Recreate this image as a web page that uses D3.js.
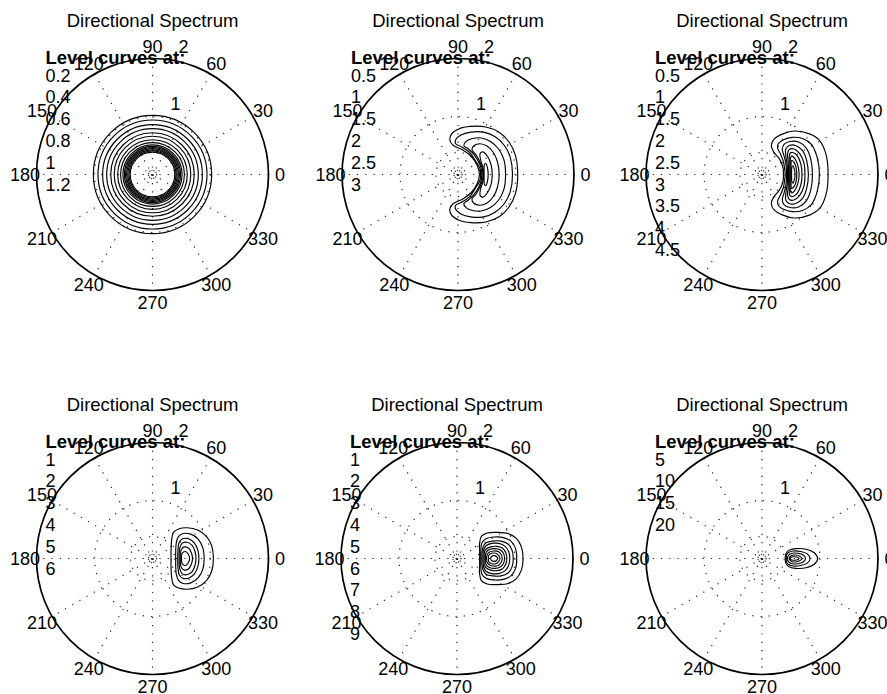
<!DOCTYPE html>
<html>
<head>
<meta charset="utf-8">
<script src="https://cdn.jsdelivr.net/npm/d3@7"></script>
<style>
  body { margin: 0; background: #fff; }
  svg { display: block; }
  text { font-family: "Liberation Sans", Arial, Helvetica, sans-serif; fill: #000; }
</style>
</head>
<body>
<svg id="chart" width="887" height="694"></svg>
<script>
// ---- data ----
const chartTitle = "Directional Spectrum";
const levelHeader = "Level curves at:";
const angleTicks = [0, 30, 60, 90, 120, 150, 180, 210, 240, 270, 300, 330];
const spokeAngles = [0, 30, 60, 90, 120, 150];
const radialTicks = [1, 2];
const gridRings = [0.07, 0.38, 1];
const rMax = 2;

const levels1 = [0.2, 0.4, 0.6, 0.8, 1, 1.2];
const levels2 = [0.5, 1, 1.5, 2, 2.5, 3];
const levels3 = [0.5, 1, 1.5, 2, 2.5, 3, 3.5, 4, 4.5];
const levels4 = [1, 2, 3, 4, 5, 6];
const levels5 = [1, 2, 3, 4, 5, 6, 7, 8, 9];
const levels6 = [5, 10, 15, 20];

// plot 1: contours are circles (radius in frequency units)
const rings1 = [1.02, 0.94, 0.86, 0.79, 0.72, 0.66, 0.60, 0.55, 0.51, 0.485, 0.465, 0.445, 0.425, 0.405, 0.385];

// plots 2-6: closed contour curves, [x, y] in the same radial units (0 deg = +x)
const contours2 = [
  [[1.03,0],[0.99,0.33],[0.88,0.56],[0.71,0.73],[0.48,0.82],[0.22,0.83],[0.02,0.79],[-0.11,0.70],[-0.14,0.59],[-0.08,0.50],[0.07,0.43],[0.23,0.31],[0.33,0.16],[0.37,0],
   [0.33,-0.16],[0.23,-0.31],[0.07,-0.43],[-0.08,-0.50],[-0.14,-0.59],[-0.11,-0.70],[0.02,-0.79],[0.22,-0.83],[0.48,-0.82],[0.71,-0.73],[0.88,-0.56],[0.99,-0.33]],
  [[0.94,0],[0.90,0.30],[0.80,0.50],[0.64,0.65],[0.44,0.73],[0.22,0.73],[0.05,0.68],[-0.04,0.60],[-0.04,0.53],[0.06,0.48],[0.20,0.38],[0.31,0.22],[0.38,0.10],[0.39,0],
   [0.38,-0.10],[0.31,-0.22],[0.20,-0.38],[0.06,-0.48],[-0.04,-0.53],[-0.04,-0.60],[0.05,-0.68],[0.22,-0.73],[0.44,-0.73],[0.64,-0.65],[0.80,-0.50],[0.90,-0.30]],
  [[0.82,0],[0.79,0.26],[0.70,0.44],[0.56,0.57],[0.40,0.63],[0.25,0.62],[0.14,0.57],[0.10,0.50],[0.18,0.44],[0.28,0.34],[0.36,0.21],[0.40,0.10],[0.41,0],
   [0.40,-0.10],[0.36,-0.21],[0.28,-0.34],[0.18,-0.44],[0.10,-0.50],[0.14,-0.57],[0.25,-0.62],[0.40,-0.63],[0.56,-0.57],[0.70,-0.44],[0.79,-0.26]],
  [[0.71,0],[0.68,0.22],[0.61,0.38],[0.50,0.49],[0.38,0.53],[0.28,0.50],[0.24,0.43],[0.31,0.34],[0.38,0.21],[0.42,0.10],[0.43,0],
   [0.42,-0.10],[0.38,-0.21],[0.31,-0.34],[0.24,-0.43],[0.28,-0.50],[0.38,-0.53],[0.50,-0.49],[0.61,-0.38],[0.68,-0.22]],
  [[0.59,0],[0.57,0.17],[0.51,0.31],[0.43,0.39],[0.38,0.36],[0.39,0.25],[0.43,0.12],[0.44,0],
   [0.43,-0.12],[0.39,-0.25],[0.38,-0.36],[0.43,-0.39],[0.51,-0.31],[0.57,-0.17]],
  [[0.52,0],[0.51,0.11],[0.48,0.19],[0.455,0.17],[0.45,0.08],[0.45,0],
   [0.45,-0.08],[0.455,-0.17],[0.48,-0.19],[0.51,-0.11]]
];

const contours3 = [
  [[1.14,0],[1.10,0.36],[0.99,0.59],[0.82,0.70],[0.56,0.75],[0.36,0.70],[0.21,0.61],[0.16,0.50],[0.20,0.39],[0.30,0.27],[0.36,0.13],[0.37,0],
   [0.36,-0.13],[0.30,-0.27],[0.20,-0.39],[0.16,-0.50],[0.21,-0.61],[0.36,-0.70],[0.56,-0.75],[0.82,-0.70],[0.99,-0.59],[1.10,-0.36]],
  [[0.99,0],[0.95,0.30],[0.85,0.52],[0.70,0.62],[0.52,0.64],[0.37,0.60],[0.28,0.53],[0.27,0.45],[0.32,0.35],[0.37,0.22],[0.39,0.10],[0.40,0],
   [0.39,-0.10],[0.37,-0.22],[0.32,-0.35],[0.27,-0.45],[0.28,-0.53],[0.37,-0.60],[0.52,-0.64],[0.70,-0.62],[0.85,-0.52],[0.95,-0.30]],
  [[0.87,0],[0.84,0.27],[0.76,0.46],[0.63,0.56],[0.48,0.57],[0.38,0.52],[0.35,0.43],[0.38,0.32],[0.41,0.20],[0.42,0.09],[0.425,0],
   [0.42,-0.09],[0.41,-0.20],[0.38,-0.32],[0.35,-0.43],[0.38,-0.52],[0.48,-0.57],[0.63,-0.56],[0.76,-0.46],[0.84,-0.27]],
  [[0.80,0],[0.77,0.24],[0.70,0.41],[0.58,0.50],[0.47,0.50],[0.41,0.44],[0.41,0.33],[0.43,0.20],[0.44,0.08],[0.44,0],
   [0.44,-0.08],[0.43,-0.20],[0.41,-0.33],[0.41,-0.44],[0.47,-0.50],[0.58,-0.50],[0.70,-0.41],[0.77,-0.24]],
  [[0.74,0],[0.72,0.21],[0.65,0.36],[0.55,0.44],[0.47,0.43],[0.44,0.35],[0.45,0.23],[0.455,0.11],[0.46,0],
   [0.455,-0.11],[0.45,-0.23],[0.44,-0.35],[0.47,-0.43],[0.55,-0.44],[0.65,-0.36],[0.72,-0.21]],
  [[0.69,0],[0.67,0.18],[0.61,0.32],[0.53,0.38],[0.48,0.36],[0.47,0.26],[0.47,0.13],[0.47,0],
   [0.47,-0.13],[0.47,-0.26],[0.48,-0.36],[0.53,-0.38],[0.61,-0.32],[0.67,-0.18]],
  [[0.64,0],[0.62,0.15],[0.57,0.27],[0.51,0.32],[0.49,0.27],[0.485,0.14],[0.485,0],
   [0.485,-0.14],[0.49,-0.27],[0.51,-0.32],[0.57,-0.27],[0.62,-0.15]],
  [[0.60,0],[0.585,0.13],[0.545,0.22],[0.51,0.24],[0.50,0.14],[0.50,0],
   [0.50,-0.14],[0.51,-0.24],[0.545,-0.22],[0.585,-0.13]],
  [[0.57,0],[0.56,0.08],[0.535,0.15],[0.515,0.12],[0.51,0.05],[0.51,0],
   [0.51,-0.05],[0.515,-0.12],[0.535,-0.15],[0.56,-0.08]]
];

const contours4 = [
  [[1.05,0],[1.02,0.22],[0.93,0.38],[0.78,0.49],[0.60,0.53],[0.45,0.51],[0.36,0.45],[0.33,0.32],[0.32,0.16],[0.32,0],
   [0.32,-0.16],[0.33,-0.32],[0.36,-0.45],[0.45,-0.51],[0.60,-0.53],[0.78,-0.49],[0.93,-0.38],[1.02,-0.22]],
  [[0.89,0],[0.87,0.18],[0.79,0.33],[0.66,0.42],[0.53,0.43],[0.45,0.38],[0.41,0.27],[0.40,0.13],[0.40,0],
   [0.40,-0.13],[0.41,-0.27],[0.45,-0.38],[0.53,-0.43],[0.66,-0.42],[0.79,-0.33],[0.87,-0.18]],
  [[0.80,0],[0.78,0.15],[0.72,0.27],[0.62,0.34],[0.52,0.34],[0.46,0.28],[0.44,0.16],[0.435,0],
   [0.44,-0.16],[0.46,-0.28],[0.52,-0.34],[0.62,-0.34],[0.72,-0.27],[0.78,-0.15]],
  [[0.75,0],[0.73,0.13],[0.68,0.23],[0.59,0.28],[0.51,0.26],[0.47,0.18],[0.46,0.08],[0.46,0],
   [0.46,-0.08],[0.47,-0.18],[0.51,-0.26],[0.59,-0.28],[0.68,-0.23],[0.73,-0.13]],
  [[0.69,0],[0.67,0.10],[0.62,0.18],[0.55,0.20],[0.50,0.16],[0.48,0.08],[0.48,0],
   [0.48,-0.08],[0.50,-0.16],[0.55,-0.20],[0.62,-0.18],[0.67,-0.10]],
  [[0.64,0],[0.62,0.07],[0.57,0.12],[0.52,0.10],[0.50,0.05],[0.50,0],
   [0.50,-0.05],[0.52,-0.10],[0.57,-0.12],[0.62,-0.07]]
];

const contours5 = [
  [[1.14,0],[1.11,0.20],[1.02,0.35],[0.88,0.43],[0.70,0.45],[0.52,0.44],[0.42,0.38],[0.39,0.26],[0.39,0.12],[0.39,0],
   [0.39,-0.12],[0.39,-0.26],[0.42,-0.38],[0.52,-0.44],[0.70,-0.45],[0.88,-0.43],[1.02,-0.35],[1.11,-0.20]],
  [[1.03,0],[1.01,0.17],[0.93,0.30],[0.80,0.36],[0.64,0.37],[0.50,0.34],[0.43,0.27],[0.41,0.13],[0.41,0],
   [0.41,-0.13],[0.43,-0.27],[0.50,-0.34],[0.64,-0.37],[0.80,-0.36],[0.93,-0.30],[1.01,-0.17]],
  [[0.97,0],[0.95,0.14],[0.88,0.25],[0.76,0.30],[0.62,0.30],[0.50,0.27],[0.45,0.20],[0.43,0.10],[0.43,0],
   [0.43,-0.10],[0.45,-0.20],[0.50,-0.27],[0.62,-0.30],[0.76,-0.30],[0.88,-0.25],[0.95,-0.14]],
  [[0.91,0],[0.89,0.12],[0.83,0.21],[0.72,0.26],[0.60,0.26],[0.50,0.22],[0.46,0.15],[0.45,0.07],[0.45,0],
   [0.45,-0.07],[0.46,-0.15],[0.50,-0.22],[0.60,-0.26],[0.72,-0.26],[0.83,-0.21],[0.89,-0.12]],
  [[0.86,0],[0.84,0.10],[0.78,0.18],[0.69,0.21],[0.58,0.20],[0.50,0.16],[0.47,0.10],[0.47,0],
   [0.47,-0.10],[0.50,-0.16],[0.58,-0.20],[0.69,-0.21],[0.78,-0.18],[0.84,-0.10]],
  [[0.82,0],[0.80,0.09],[0.74,0.15],[0.66,0.17],[0.57,0.16],[0.51,0.12],[0.49,0.06],[0.49,0],
   [0.49,-0.06],[0.51,-0.12],[0.57,-0.16],[0.66,-0.17],[0.74,-0.15],[0.80,-0.09]],
  [[0.78,0],[0.76,0.07],[0.71,0.12],[0.63,0.13],[0.56,0.11],[0.52,0.07],[0.51,0],
   [0.52,-0.07],[0.56,-0.11],[0.63,-0.13],[0.71,-0.12],[0.76,-0.07]],
  [[0.74,0],[0.72,0.05],[0.67,0.09],[0.60,0.09],[0.55,0.06],[0.54,0],
   [0.55,-0.06],[0.60,-0.09],[0.67,-0.09],[0.72,-0.05]],
  [[0.70,0],[0.68,0.035],[0.64,0.05],[0.60,0.04],[0.58,0],
   [0.60,-0.04],[0.64,-0.05],[0.68,-0.035]]
];

const contours6 = [
  [[0.96,0],[0.90,0.10],[0.76,0.16],[0.58,0.17],[0.46,0.14],[0.41,0.08],[0.40,0],
   [0.41,-0.08],[0.46,-0.14],[0.58,-0.17],[0.76,-0.16],[0.90,-0.10]],
  [[0.83,0],[0.78,0.08],[0.67,0.12],[0.54,0.13],[0.45,0.10],[0.42,0.05],[0.42,0],
   [0.42,-0.05],[0.45,-0.10],[0.54,-0.13],[0.67,-0.12],[0.78,-0.08]],
  [[0.75,0],[0.71,0.06],[0.62,0.09],[0.52,0.09],[0.46,0.06],[0.44,0],
   [0.46,-0.06],[0.52,-0.09],[0.62,-0.09],[0.71,-0.06]],
  [[0.69,0],[0.65,0.04],[0.58,0.06],[0.51,0.05],[0.47,0],
   [0.51,-0.05],[0.58,-0.06],[0.65,-0.04]],
  [[0.64,0],[0.60,0.025],[0.54,0.03],[0.50,0.02],[0.49,0],
   [0.50,-0.02],[0.54,-0.03],[0.60,-0.025]]
];

// ---- layout ----
const R = 116;
const fontSize = 18;
const centers = [[152.5, 174.5], [458, 174.5], [762, 174.5], [152.5, 558.5], [457, 558.5], [762, 558.5]];
const panels = [
  { levels: levels1, rings: rings1 },
  { levels: levels2, contours: contours2 },
  { levels: levels3, contours: contours3 },
  { levels: levels4, contours: contours4 },
  { levels: levels5, contours: contours5 },
  { levels: levels6, contours: contours6 }
];

const svg = d3.select("#chart");
svg.append("rect").attr("width", 887).attr("height", 694).attr("fill", "#fff");

const rScale = d3.scaleLinear().domain([0, rMax]).range([0, R]);
const xScale = d3.scaleLinear().domain([-rMax, rMax]).range([-R, R]);
const yScale = d3.scaleLinear().domain([-rMax, rMax]).range([R, -R]);

const contourLine = d3.line()
  .x(d => xScale(d[0]))
  .y(d => yScale(d[1]))
  .curve(d3.curveCatmullRomClosed.alpha(0.5));

function polarPoint(angleDeg, rv) {
  const a = angleDeg * Math.PI / 180;
  return [xScale(rv * Math.cos(a)), yScale(rv * Math.sin(a))];
}

panels.forEach((p, i) => {
  const g = svg.append("g")
    .attr("transform", `translate(${centers[i][0]},${centers[i][1]})`);

  // title
  g.append("text")
    .attr("x", 0).attr("y", -148)
    .attr("text-anchor", "middle")
    .style("font-size", "18.5px")
    .text(chartTitle);

  // dotted spokes
  g.selectAll("line.spoke").data(spokeAngles).join("line")
    .attr("class", "spoke")
    .attr("x1", a => polarPoint(a, rMax)[0])
    .attr("y1", a => polarPoint(a, rMax)[1])
    .attr("x2", a => polarPoint(a + 180, rMax)[0])
    .attr("y2", a => polarPoint(a + 180, rMax)[1])
    .attr("stroke", "#222").attr("stroke-width", 1.2)
    .attr("stroke-dasharray", "1.2,7.1");

  // dotted rings
  g.selectAll("circle.grid").data(gridRings).join("circle")
    .attr("class", "grid")
    .attr("r", d => rScale(d))
    .attr("fill", "none")
    .attr("stroke", "#222").attr("stroke-width", 1.2)
    .attr("stroke-dasharray", d => d < 0.1 ? "1,1.2" : "1.2,7.1");

  // outer circle
  g.append("circle")
    .attr("r", rScale(rMax))
    .attr("fill", "none")
    .attr("stroke", "#000").attr("stroke-width", 1.7);

  // contours
  if (p.rings) {
    g.selectAll("circle.level").data(p.rings).join("circle")
      .attr("class", "level")
      .attr("r", d => rScale(d))
      .attr("fill", "none")
      .attr("stroke", "#000").attr("stroke-width", 1.15);
  } else {
    g.selectAll("path.level").data(p.contours).join("path")
      .attr("class", "level")
      .attr("d", contourLine)
      .attr("fill", "none")
      .attr("stroke", "#000").attr("stroke-width", 1.15);
  }

  // angle labels
  g.selectAll("text.angle").data(angleTicks).join("text")
    .attr("class", "angle")
    .attr("x", a => polarPoint(a, rMax * 1.1)[0])
    .attr("y", a => polarPoint(a, rMax * 1.1)[1])
    .attr("text-anchor", "middle")
    .attr("dy", "0.36em")
    .style("font-size", fontSize + "px")
    .text(a => a);

  // radial labels at 82 degrees
  g.selectAll("text.rtick").data(radialTicks).join("text")
    .attr("class", "rtick")
    .attr("x", v => polarPoint(82, v + 0.05)[0] + 9.5)
    .attr("y", v => polarPoint(82, v + 0.05)[1] - 4)
    .style("font-size", fontSize + "px")
    .text(v => v);

  // level list
  g.append("text")
    .attr("x", -107).attr("y", -110.5)
    .style("font-size", "18.5px")
    .style("font-weight", "bold")
    .text(levelHeader);

  g.selectAll("text.lev").data(p.levels).join("text")
    .attr("class", "lev")
    .attr("x", -107)
    .attr("y", (d, k) => -93 + k * 21.8)
    .style("font-size", fontSize + "px")
    .text(d => d);
});
</script>
</body>
</html>
